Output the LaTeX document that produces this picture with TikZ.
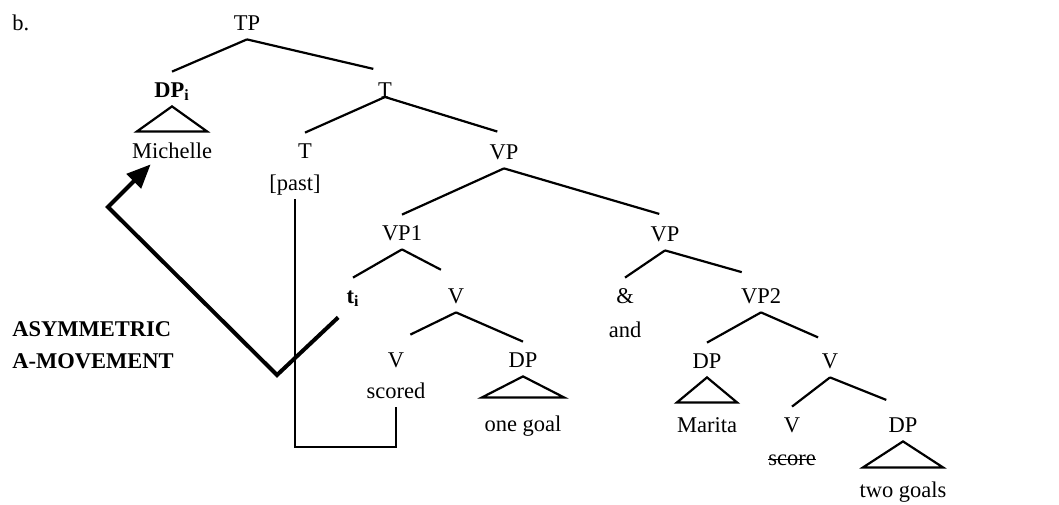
\documentclass[tikz,border=0pt]{standalone}
\usepackage{fontspec}
\setmainfont{Liberation Serif}
\usetikzlibrary{positioning,arrows.meta}
\newcommand{\treefont}{\fontsize{11.25}{13.5}\selectfont}
\newcommand{\levelgap}{32pt}
\newcommand{\wordgap}{16pt}
\newcommand{\triroof}[3]{\draw[branch] (#1.south) -- ++(-#2,#3) -- ++(#2*2,0) -- cycle;}

\tikzset{
  cat/.style={font=\treefont, inner xsep=0pt, inner ysep=4.5pt, text height=8pt, text depth=0pt},
  note/.style={font=\treefont\bfseries, inner sep=0pt, anchor=base west},
  branch/.style={line width=1.1pt},
  movearrow/.style={line width=2pt, -{Triangle[length=12pt,width=10pt]}},
  headmove/.style={line width=0.8pt}
}

\begin{document}
\begin{tikzpicture}[x=0.5pt,y=-0.5pt,on grid]
	\useasboundingbox (0,0) rectangle (1059,504);
	\node[font=\treefont, inner sep=0pt, anchor=base west] (lbl) at (12,30) {b.};
	% the tree
	\node[cat] (TP) at (247,22) {TP};
	\node[cat] (DPi) [below left=33.5pt and 37.5pt of TP] {\textbf{DP\textsubscript{i}}};
	\node[cat] (Michelle) [below=30.5pt of DPi] {Michelle};
	\node[cat] (Tbar) [below right=33.5pt and 69pt of TP] {T};
	\node[cat] (T) [below left=30.5pt and 40pt of Tbar] {T};
	\node[cat] (past) [below left=\wordgap and 5pt of T] {[past]};
	\node[cat] (VP) [below right=31pt and 59.5pt of Tbar] {VP};
	\node[cat] (VPa) [below left=40.5pt and 51pt of VP] {VP1};
	\node[cat] (VPc) [below right=41pt and 80.5pt of VP] {VP};
	\node[cat] (ti) [below left=31.5pt and 24.5pt of VPa] {\textbf{t\textsubscript{i}}};
	\node[cat] (Vbar1) [below right=31.5pt and 27pt of VPa] {V};
	\node[cat] (V1) [below left=\levelgap and 30pt of Vbar1] {V};
	\node[cat] (scored) [below=15.5pt of V1] {scored};
	\node[cat] (DP1) [below right=\levelgap and 33.5pt of Vbar1] {DP};
	\node[cat] (onegoal) [below=\levelgap of DP1] {one goal};
	\node[cat] (amp) [below left=31pt and 20pt of VPc] {\&};
	\node[cat] (and) [below=17pt of amp] {and};
	\node[cat] (VPb) [below right=31pt and 48pt of VPc] {VP2};
	\node[cat] (DP2) [below left=32.5pt and 27pt of VPb] {DP};
	\node[cat] (Marita) [below=\levelgap of DP2] {Marita};
	\node[cat] (Vbar2) [below right=32.5pt and 34.5pt of VPb] {V};
	\node[cat] (V2) [below left=\levelgap and 19pt of Vbar2] {V};
	\node[cat] (score) [below=16.5pt of V2] {score};
	\node[cat] (DP3) [below right=\levelgap and 36.5pt of Vbar2] {DP};
	\node[cat] (twogoals) [below=32.5pt of DP3] {two goals};
	\node[note] (asymA) at (12,336) {ASYMMETRIC};
	\node[note] (asymB) at (12,368) {A-MOVEMENT};
	\path[branch]
		(TP.south) edge (DPi.north)
		(TP.south) edge[shorten >=6pt] (Tbar.north)
		(Tbar.base) edge (T.north)
		(Tbar.base) edge[shorten >=3.5pt] (VP.north)
		(VP.south) edge (VPa.north)
		(VP.south) edge[shorten >=3pt] (VPc.north)
		(VPa.south) edge (ti.north)
		(VPa.south) edge[shorten >=8.5pt] (Vbar1.north)
		(Vbar1.south) edge[shorten >=8pt] (V1.north)
		(Vbar1.south) edge (DP1.north)
		(VPc.south) edge (amp.north)
		(VPc.south) edge[shorten >=10pt] (VPb.north)
		(VPb.south) edge (DP2.north)
		(VPb.south) edge[shorten >=6.5pt] (Vbar2.north)
		(Vbar2.south) edge (V2.north)
		(Vbar2.south) edge[shorten >=9pt] (DP3.north)
	;
	\triroof{DPi}{35}{25}
	\triroof{DP1}{41}{21}
	\triroof{DP2}{30}{25}
	\triroof{DP3}{40}{26}
	% deleted copy of the verb
	\draw[line width=0.5pt] ([yshift=-1pt]score.west) -- ([yshift=-1pt]score.east);
	% movement of the subject and of the verb
	\coordinate (mvlow) at (277,375);
	\coordinate (mvhigh) at (108,207);
	\draw[movearrow] ([shift={(-8,5)}]ti.south west) -- (mvlow) -- (mvhigh) -- ([shift={(19,-3)}]Michelle.south west);
	\coordinate (hmfloor) at (0,447);
	\draw[headmove] (past.south) -- (past.south |- hmfloor) -| (scored.south);
\end{tikzpicture}
\end{document}
